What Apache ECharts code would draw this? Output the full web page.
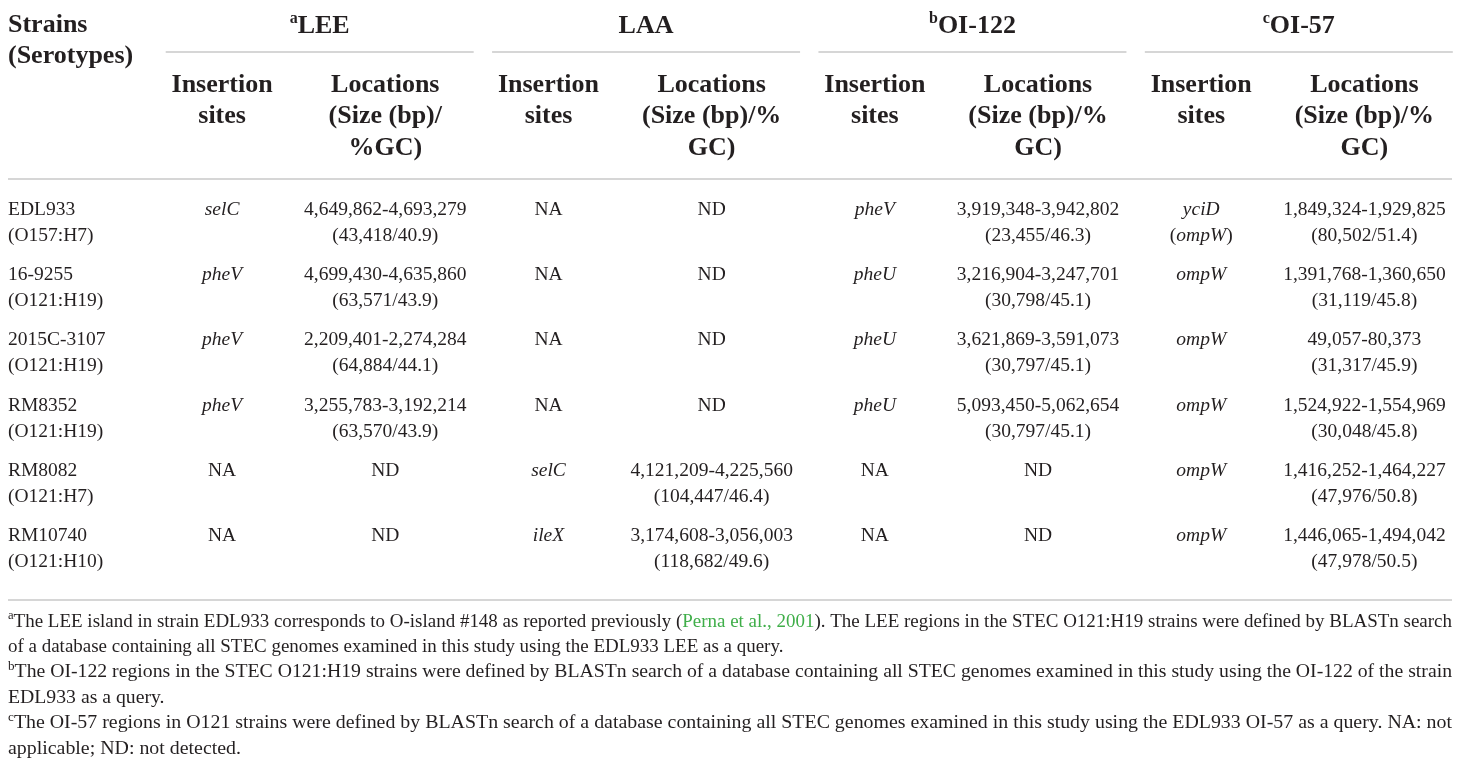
<!DOCTYPE html>
<html>
<head>
<meta charset="utf-8">
<script src="https://cdn.jsdelivr.net/npm/echarts@6/dist/echarts.min.js"></script>
<style>
  html, body { margin: 0; padding: 0; background: #fff; }
  #chart { width: 1460px; height: 768px; }
</style>
</head>
<body>
<div id="chart"></div>
<script>
// --- datos de la tabla ---
const strains = ['EDL933', '16-9255', '2015C-3107', 'RM8352', 'RM8082', 'RM10740'];
const serotypes = ['(O157:H7)', '(O121:H19)', '(O121:H19)', '(O121:H19)', '(O121:H7)', '(O121:H10)'];

const islands = ['LEE', 'LAA', 'OI-122', 'OI-57'];
const islandMarks = ['a', '', 'b', 'c'];

const leeSites = ['selC', 'pheV', 'pheV', 'pheV', 'NA', 'NA'];
const leeLocations = ['4,649,862-4,693,279', '4,699,430-4,635,860', '2,209,401-2,274,284', '3,255,783-3,192,214', 'ND', 'ND'];
const leeSizeGC = ['(43,418/40.9)', '(63,571/43.9)', '(64,884/44.1)', '(63,570/43.9)', '', ''];

const laaSites = ['NA', 'NA', 'NA', 'NA', 'selC', 'ileX'];
const laaLocations = ['ND', 'ND', 'ND', 'ND', '4,121,209-4,225,560', '3,174,608-3,056,003'];
const laaSizeGC = ['', '', '', '', '(104,447/46.4)', '(118,682/49.6)'];

const oi122Sites = ['pheV', 'pheU', 'pheU', 'pheU', 'NA', 'NA'];
const oi122Locations = ['3,919,348-3,942,802', '3,216,904-3,247,701', '3,621,869-3,591,073', '5,093,450-5,062,654', 'ND', 'ND'];
const oi122SizeGC = ['(23,455/46.3)', '(30,798/45.1)', '(30,797/45.1)', '(30,797/45.1)', '', ''];

const oi57Sites = ['yciD', 'ompW', 'ompW', 'ompW', 'ompW', 'ompW'];
const oi57SiteNotes = ['(ompW)', '', '', '', '', ''];
const oi57Locations = ['1,849,324-1,929,825', '1,391,768-1,360,650', '49,057-80,373', '1,524,922-1,554,969', '1,416,252-1,464,227', '1,446,065-1,494,042'];
const oi57SizeGC = ['(80,502/51.4)', '(31,119/45.8)', '(31,317/45.9)', '(30,048/45.8)', '(47,976/50.8)', '(47,978/50.5)'];

const strainHeader = ['Strains', '(Serotypes)'];
const siteHeader = ['Insertion', 'sites'];
const locHeaders = [
  ['Locations', '(Size (bp)/', '%GC)'],
  ['Locations', '(Size (bp)/%', 'GC)'],
  ['Locations', '(Size (bp)/%', 'GC)'],
  ['Locations', '(Size (bp)/%', 'GC)']
];

// notas al pie: [marca, texto, texto verde, texto, justificada]
const footnotes = [
  ['a', 'The LEE island in strain EDL933 corresponds to O-island #148 as reported previously (', 'Perna et al., 2001', '). The LEE regions in the STEC O121:H19 strains were defined by BLASTn search', true],
  ['', 'of a database containing all STEC genomes examined in this study using the EDL933 LEE as a query.', '', '', false],
  ['b', 'The OI-122 regions in the STEC O121:H19 strains were defined by BLASTn search of a database containing all STEC genomes examined in this study using the OI-122 of the strain', '', '', true],
  ['', 'EDL933 as a query.', '', '', false],
  ['c', 'The OI-57 regions in O121 strains were defined by BLASTn search of a database containing all STEC genomes examined in this study using the EDL933 OI-57 as a query. NA: not', '', '', true],
  ['', 'applicable; ND: not detected.', '', '', false]
];

// --- estilos ---
const FONT = '"Liberation Serif", "DejaVu Serif", serif';
const INK = '#231f20';
const RULE = '#c9c9c9';
const GREEN = '#3fae49';
const BODY_SIZE = 19.5;
const HEAD_SIZE = 26;
const NOTE_SIZE = 19.5;
const SUP_SIZE = 13;
const X_MIN = -1.312;

// --- celdas ---
const siteCols = [leeSites, laaSites, oi122Sites, oi57Sites];
const siteNotes = [null, null, null, oi57SiteNotes];
const locCols = [leeLocations, laaLocations, oi122Locations, oi57Locations];
const sizeCols = [leeSizeGC, laaSizeGC, oi122SizeGC, oi57SizeGC];

const cells = [];
strains.forEach((s, i) => {
  cells.push({ x: X_MIN, row: i, l1: s, l2: serotypes[i], kind: 'strain' });
  siteCols.forEach((col, j) => {
    const note = siteNotes[j] ? siteNotes[j][i] : '';
    cells.push({ x: 2 * j, row: i, l1: col[i], l2: note, kind: col[i] === 'NA' ? 'plain' : 'gene' });
    cells.push({ x: 2 * j + 1, row: i, l1: locCols[j][i], l2: sizeCols[j][i], kind: 'plain' });
  });
});

function renderCell(params, api) {
  const c = cells[params.dataIndex];
  const p = api.coord([api.value(0), api.value(1)]);
  const align = c.kind === 'strain' ? 'left' : 'center';
  const base = { fontFamily: FONT, fontSize: BODY_SIZE, fill: INK, align: align, verticalAlign: 'middle' };
  const children = [{
    type: 'text', x: p[0], y: p[1] - 13,
    style: Object.assign({}, base, { text: c.l1, fontStyle: c.kind === 'gene' ? 'italic' : 'normal' })
  }];
  if (c.l2) {
    // parentesis rectos, nombre del gen en cursiva
    const txt = c.kind === 'gene' ? c.l2.replace(/\((\w+)\)/, '({i|$1})') : c.l2;
    children.push({
      type: 'text', x: p[0], y: p[1] + 13,
      style: Object.assign({}, base, {
        text: txt,
        rich: { i: { fontFamily: FONT, fontSize: BODY_SIZE, fontStyle: 'italic', fill: INK } }
      })
    });
  }
  return { type: 'group', children: children };
}

const chart = echarts.init(document.getElementById('chart'));
chart.setOption({
  animation: false,
  backgroundColor: '#fff',
  grid: { left: 8, right: 14, top: 190, bottom: 186 },
  xAxis: { type: 'value', min: X_MIN, max: 7.5, show: false },
  yAxis: { type: 'category', data: strains, inverse: true, show: false },
  series: [{
    type: 'custom',
    clip: false,
    renderItem: renderCell,
    data: cells.map(c => [c.x, c.row])
  }]
});

// --- encabezados y notas a partir de la escala del eje ---
const colX = k => chart.convertToPixel({ xAxisIndex: 0 }, k);
const left = chart.convertToPixel({ xAxisIndex: 0 }, X_MIN);
const right = 1452;

const measure = (() => {
  const ctx = document.createElement('canvas').getContext('2d');
  return (txt, size, style) => {
    ctx.font = (style || '') + ' ' + size + 'px "Liberation Serif"';
    return ctx.measureText(txt).width;
  };
})();

const graphics = [];
const hText = (x, y, text, align, extra) => graphics.push({
  type: 'text', x: x, y: y,
  style: Object.assign({ text: text, fontFamily: FONT, fontSize: HEAD_SIZE, fontWeight: 'bold', fill: INK, align: align, verticalAlign: 'middle' }, extra || {})
});
const hLine = (x1, x2, y) => graphics.push({
  type: 'line', shape: { x1: x1, y1: y, x2: x2, y2: y }, style: { stroke: RULE, lineWidth: 1.5 }
});

hText(left, 25, strainHeader[0], 'left');
hText(left, 56, strainHeader[1], 'left');

islands.forEach((name, j) => {
  const c = (colX(2 * j) + colX(2 * j + 1)) / 2 + 16;
  const mark = islandMarks[j];
  hText(c, 26, (mark ? '{s|' + mark + '}' : '') + '{h|' + name + '}', 'center', {
    rich: {
      s: { fontFamily: FONT, fontSize: 16, fontWeight: 'bold', fill: INK, verticalAlign: 'top', lineHeight: 17 },
      h: { fontFamily: FONT, fontSize: HEAD_SIZE, fontWeight: 'bold', fill: INK, lineHeight: 31 }
    }
  });
  hLine(c - 154, c + 154, 52);
  hText(colX(2 * j), 85, siteHeader[0], 'center');
  hText(colX(2 * j), 116, siteHeader[1], 'center');
  locHeaders[j].forEach((t, k) => hText(colX(2 * j + 1), 85 + 31.5 * k, t, 'center'));
});

hLine(left, right, 179);
hLine(left, right, 600);

// notas: justificadas al ancho completo con escala horizontal
let scale = 1;
footnotes.forEach((f, i) => {
  const [mark, t1, g, t2, justified] = f;
  const w = (mark ? measure(mark, SUP_SIZE) : 0) + measure(t1, NOTE_SIZE) + measure(g, NOTE_SIZE) + measure(t2, NOTE_SIZE);
  if (justified) scale = (right - left) / w;
  let txt = '';
  if (mark) txt += '{s|' + mark + '}';
  txt += '{t|' + t1 + '}';
  if (g) txt += '{g|' + g + '}';
  if (t2) txt += '{t|' + t2 + '}';
  graphics.push({
    type: 'text', x: left, y: 621.5 + 25.4 * i, scaleX: scale,
    style: {
      text: txt, align: 'left', verticalAlign: 'middle',
      rich: {
        s: { fontFamily: FONT, fontSize: SUP_SIZE, fill: INK, verticalAlign: 'top', lineHeight: 13 },
        t: { fontFamily: FONT, fontSize: NOTE_SIZE, fill: INK, lineHeight: 24 },
        g: { fontFamily: FONT, fontSize: NOTE_SIZE, fill: GREEN, lineHeight: 24 }
      }
    }
  });
});

chart.setOption({ graphic: graphics });
</script>
</body>
</html>
